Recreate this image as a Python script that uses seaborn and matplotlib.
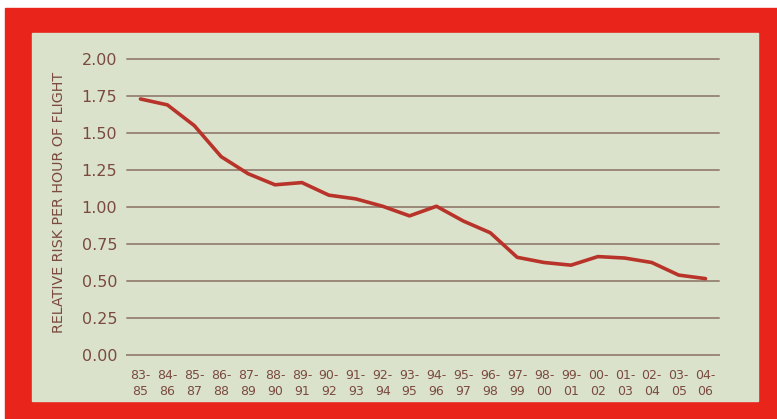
import numpy as np
import pandas as pd
import seaborn as sns
import matplotlib.pyplot as plt
from matplotlib.patches import Rectangle

sns.set_style("white")
plt.rcParams['font.family'] = ['DejaVu Sans']

# periods (3-year rolling windows) and relative risk per hour of flight
periods = ["83-\n85", "84-\n86", "85-\n87", "86-\n88", "87-\n89", "88-\n90",
           "89-\n91", "90-\n92", "91-\n93", "92-\n94", "93-\n95", "94-\n96",
           "95-\n97", "96-\n98", "97-\n99", "98-\n00", "99-\n01", "00-\n02",
           "01-\n03", "02-\n04", "03-\n05", "04-\n06"]
risk = [1.73, 1.69, 1.55, 1.34, 1.225, 1.15, 1.165, 1.08, 1.055, 1.005,
        0.94, 1.005, 0.905, 0.826, 0.66, 0.625, 0.607, 0.665, 0.655, 0.625,
        0.54, 0.516]
yticks = [0.0, 0.25, 0.5, 0.75, 1.0, 1.25, 1.5, 1.75, 2.0]

RED = "#e8241b"
PANEL = "#dbe2cc"
LINE = "#b8342a"
GRID = "#9b8878"
TEXT = "#7a4a3e"

df = pd.DataFrame({"pos": np.arange(len(periods)), "risk": risk})

fig = plt.figure(figsize=(7.77, 4.19), dpi=100)
fig.patch.set_facecolor("white")
# red frame and light green panel
fig.patches.append(Rectangle((5 / 777, 0), 772 / 777, 411 / 419,
                             transform=fig.transFigure, color=RED, zorder=0))
fig.patches.append(Rectangle((32 / 777, 18 / 419), 726 / 777, 368 / 419,
                             transform=fig.transFigure, color=PANEL, zorder=1))

ax = fig.add_axes([127 / 777, 1 - 355 / 419, 592 / 777, 296 / 419])
ax.set_facecolor("none")
ax.set_zorder(2)

for y in yticks[1:]:
    ax.axhline(y, color=GRID, lw=1.4, zorder=1, clip_on=False)

sns.lineplot(data=df, x="pos", y="risk", ax=ax, color=LINE, lw=2.6, zorder=3)

ax.set_xlim(-0.5, len(periods) - 0.5)
ax.set_ylim(0, 2.0)
ax.set_yticks(yticks)
ax.set_yticklabels([f"{v:.2f}" for v in yticks], fontsize=11.5, color=TEXT)
ax.tick_params(axis="y", length=0, pad=7)

ax.set_xticks(np.arange(len(periods)))
ax.set_xticklabels(periods, fontsize=9, color=TEXT, linespacing=1.3)
ax.tick_params(axis="x", which="major", length=0, pad=10)
ax.set_xticks(np.arange(len(periods) + 1) - 0.5, minor=True)
ax.tick_params(axis="x", which="minor", direction="in", length=4,
               color=GRID, width=1.2)

for s in ["top", "right", "left"]:
    ax.spines[s].set_visible(False)
ax.spines["bottom"].set_color(GRID)
ax.spines["bottom"].set_linewidth(1.4)

ax.set_xlabel("")
ax.set_ylabel("RELATIVE RISK PER HOUR OF FLIGHT", fontsize=10.3, color=TEXT)
ax.yaxis.set_label_coords(-61 / 592, 0.514)

fig.savefig("out.png", dpi=100, facecolor=fig.get_facecolor())
